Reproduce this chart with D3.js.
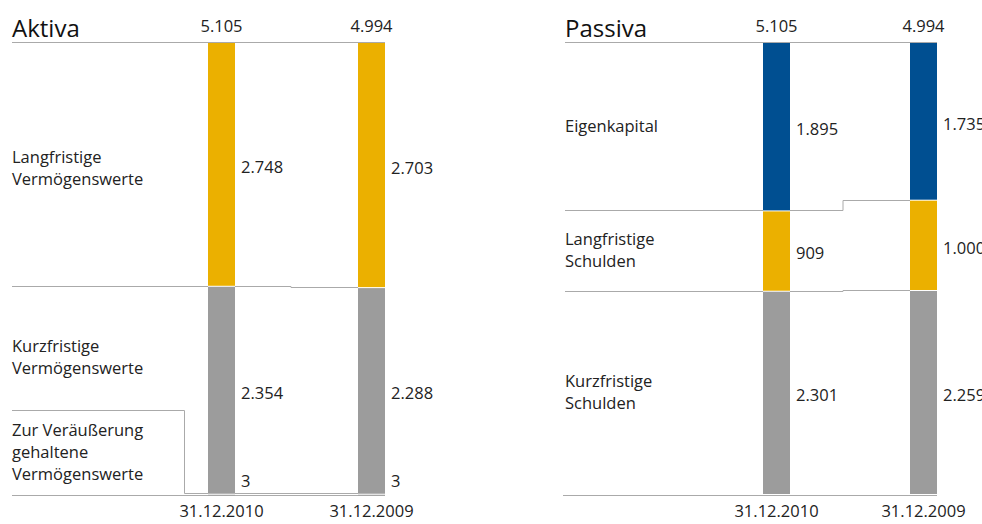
<!DOCTYPE html>
<html>
<head>
<meta charset="utf-8">
<script src="https://cdn.jsdelivr.net/npm/d3@7"></script>
<style>
  body { margin: 0; background: #fff; }
  svg { display: block; font-family: "Open Sans", sans-serif; }
  .label { font-size: 16.5px; fill: #222; }
  .title { font-size: 24px; fill: #111; }
  .rule { fill: none; stroke: #aaa; stroke-width: 1; }
</style>
</head>
<body>
<div id="wrapper"></div>
<script>
// data
const dates = ["31.12.2010", "31.12.2009"]

const aktivaLabels = [
  ["Langfristige", "Vermögenswerte"],
  ["Kurzfristige", "Vermögenswerte"],
  ["Zur Veräußerung", "gehaltene", "Vermögenswerte"]
]
const aktiva2010 = [2748, 2354, 3]
const aktiva2009 = [2703, 2288, 3]
const aktivaColors = ["#EBB000", "#9C9C9C", "#9C9C9C"]

const passivaLabels = [
  ["Eigenkapital"],
  ["Langfristige", "Schulden"],
  ["Kurzfristige", "Schulden"]
]
const passiva2010 = [1895, 909, 2301]
const passiva2009 = [1735, 1000, 2259]
const passivaColors = ["#004F91", "#EBB000", "#9C9C9C"]

// chart dimensions
const dimensions = {
  width: 982,
  height: 524,
  top: 43,
  bottom: 494,
  barWidth: 27,
  lineHeight: 22,
}

const de = d3.formatLocale({ decimal: ",", thousands: ".", grouping: [3], currency: ["", " €"] })
const fmt = de.format(",d")

const svg = d3.select("#wrapper")
  .append("svg")
    .attr("width", dimensions.width)
    .attr("height", dimensions.height)

// share of total -> y
const y = d3.scaleLinear()
  .domain([0, 1])
  .range([dimensions.top, dimensions.bottom])

function drawPanel(opts) {
  const g = svg.append("g")
  const series = [opts.v2010, opts.v2009]
  const totals = series.map(s => d3.sum(s))
  // cumulative shares for each bar
  const cums = series.map((s, i) => {
    let acc = 0
    return s.map(v => {
      const start = acc
      acc += v
      return { v, start: start / totals[i], end: acc / totals[i] }
    })
  })

  const x = d3.scalePoint()
    .domain(dates)
    .range(opts.barRange)
  const bw = dimensions.barWidth
  const right = opts.barRange[1] + bw
  const stepX = opts.barRange[0] + bw + opts.stepOffset

  // title
  g.append("text")
    .attr("class", "title")
    .attr("x", opts.left)
    .attr("y", 37)
    .text(opts.title)

  // top + bottom rules
  g.append("line").attr("class", "rule")
    .attr("x1", opts.left).attr("x2", right)
    .attr("y1", 42.5).attr("y2", 42.5)
  g.append("line").attr("class", "rule")
    .attr("x1", opts.baseLeft).attr("x2", right)
    .attr("y1", 495.5).attr("y2", 495.5)

  // connectors between segments
  const n = opts.v2010.length
  for (let k = 0; k < n - 1; k++) {
    const y1 = Math.round(y(cums[0][k].end)) + 0.5
    const y2 = Math.round(y(cums[1][k].end)) + 0.5
    const b1 = x(dates[0]), b2 = x(dates[1])
    let p = d3.path()
    if (opts.smallLast && k === n - 2) {
      // bracket for the tiny last segment
      const yb = Math.round(y(cums[0][k].end)) - 0.5
      const yb2 = Math.round(y(cums[1][k].end)) - 0.5
      p.moveTo(opts.left, opts.bracketTop + 0.5)
      p.lineTo(opts.bracketX + 0.5, opts.bracketTop + 0.5)
      p.lineTo(opts.bracketX + 0.5, yb)
      p.lineTo(b1, yb)
      p.moveTo(b1 + bw, yb)
      p.lineTo(b2, yb2)
    } else {
      p.moveTo(opts.left, y1)
      p.lineTo(b1, y1)
      p.moveTo(b1 + bw, y1)
      p.lineTo(stepX, y1)
      p.lineTo(stepX, y2)
      p.lineTo(b2, y2)
    }
    g.append("path").attr("class", "rule").attr("d", p.toString())
  }

  // bars
  cums.forEach((segs, i) => {
    const bx = x(dates[i])
    g.selectAll(null)
      .data(segs)
      .join("rect")
        .attr("x", bx)
        .attr("y", (d, j) => y(d.start) + (j > 0 ? 1 : 0))
        .attr("width", bw)
        .attr("height", (d, j) => Math.max(0.6, y(d.end) - y(d.start) - (j > 0 ? 1 : 0)))
        .attr("fill", (d, j) => opts.colors[j])

    // value labels
    g.selectAll(null)
      .data(segs)
      .join("text")
        .attr("class", "label")
        .attr("x", bx + bw + 6)
        .attr("y", d => {
          const h = y(d.end) - y(d.start)
          return h < 20 ? y(d.end) - 13 : (y(d.start) + y(d.end)) / 2 + 3
        })
        .attr("dy", "0.35em")
        .text(d => fmt(d.v))

    // totals
    g.append("text")
      .attr("class", "label")
      .attr("x", bx + bw / 2)
      .attr("y", 32)
      .attr("text-anchor", "middle")
      .text(fmt(totals[i]))

    // dates
    g.append("text")
      .attr("class", "label")
      .attr("x", bx + bw / 2)
      .attr("y", 517)
      .attr("text-anchor", "middle")
      .text(dates[i])
  })

  // category labels
  opts.labels.forEach((lines, k) => {
    const seg = cums[0][k]
    let cy = (y(seg.start) + y(seg.end)) / 2
    if (opts.labelShift && opts.labelShift[k] != null) cy = opts.labelShift[k](cy)
    const t = g.append("text")
      .attr("class", "label")
      .attr("x", opts.left)
      .attr("y", cy - (lines.length - 1) * dimensions.lineHeight / 2)
      .attr("dy", "0.35em")
    lines.forEach((l, i) => {
      t.append("tspan")
        .attr("x", opts.left)
        .attr("dy", i === 0 ? "0.35em" : dimensions.lineHeight)
        .text(l)
    })
  })
}

drawPanel({
  title: "Aktiva",
  labels: aktivaLabels,
  v2010: aktiva2010,
  v2009: aktiva2009,
  colors: aktivaColors,
  left: 12,
  baseLeft: 12,
  barRange: [208, 358],
  stepOffset: 56,
  smallLast: true,
  bracketTop: 410,
  bracketX: 184,
  labelShift: [
    cy => cy + 4,
    cy => cy - 33,
    cy => dimensions.bottom - 42
  ],
})

drawPanel({
  title: "Passiva",
  labels: passivaLabels,
  v2010: passiva2010,
  v2009: passiva2009,
  colors: passivaColors,
  left: 565,
  baseLeft: 563,
  barRange: [763, 910],
  stepOffset: 53,
  smallLast: false,
})
</script>
</body>
</html>
